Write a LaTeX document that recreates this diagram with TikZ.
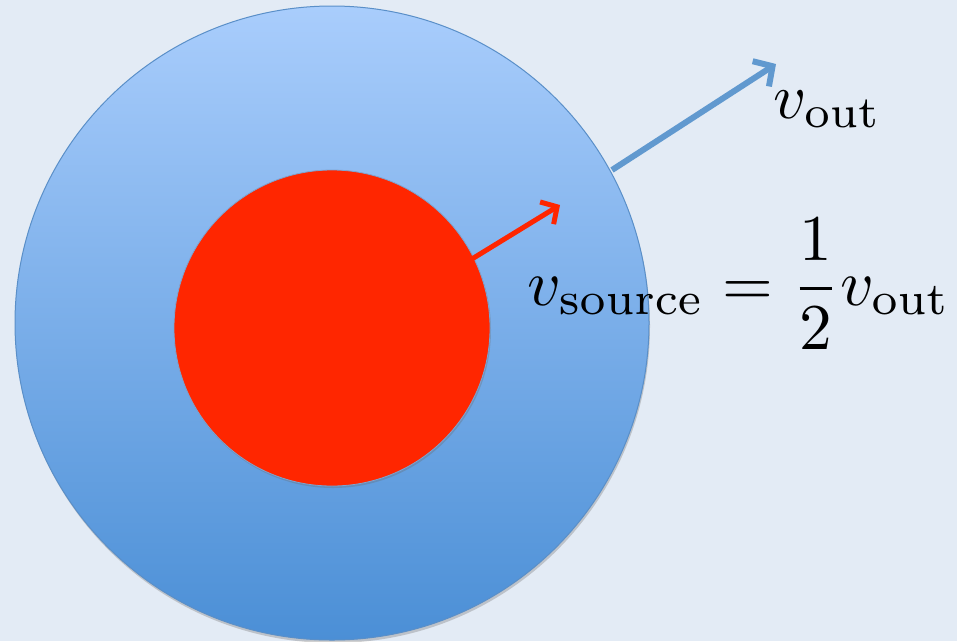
\documentclass[tikz,border=0pt]{standalone}
\usetikzlibrary{arrows.meta,shadows,fadings}
\definecolor{bgc}{HTML}{E3EBF5}
\definecolor{topblue}{HTML}{A9CDFC}
\definecolor{botblue}{HTML}{4B8FD6}
\definecolor{edgeblue}{HTML}{5A8FC8}
\definecolor{arrblue}{HTML}{6199CF}
\definecolor{redc}{HTML}{FF2600}
\begin{document}
\begin{tikzpicture}[x=1pt,y=-1pt,
  outer/.style={circle,draw=edgeblue,line width=1pt,top color=topblue,bottom color=botblue,minimum size=634pt,inner sep=0pt,
     drop shadow={shadow xshift=1pt,shadow yshift=-3pt,opacity=0.3,fill=black!60}},
  inner/.style={circle,draw=edgeblue!80,line width=0.8pt,fill=redc,minimum size=316pt,inner sep=0pt,
     drop shadow={shadow xshift=1pt,shadow yshift=-2pt,opacity=0.3,fill=black!60}},
  bluearrow/.style={draw=arrblue,line width=6pt,-{Straight Barb[length=14pt,width=30pt,line width=6pt]}},
  redarrow/.style={draw=redc,line width=5pt,-{Straight Barb[length=12pt,width=26pt,line width=5pt]}},
  lbl/.style={inner sep=0pt,anchor=base west,font=\normalsize}]
\fill[bgc] (0,0) rectangle (957,641);
\useasboundingbox (0,0) rectangle (957,641);
\node[outer] (big) at (332,323) {};
\node[inner] (small) at (332,328) {};
\coordinate (bs) at (612,170);
\coordinate (be) at (776,64);
\coordinate (rs) at (467,262);
\coordinate (re) at (560,205);
\draw[bluearrow] (bs) -- (be);
\draw[redarrow] (rs) -- (re);
\node[lbl,scale=6.4] (vout) at (772,118) {$v_{\mathrm{out}}$};
\node[lbl,scale=6.53] (eq) at (526,305) {$\displaystyle v_{\mathrm{source}}=\frac{1}{2}v_{\mathrm{out}}$};
\end{tikzpicture}
\end{document}
